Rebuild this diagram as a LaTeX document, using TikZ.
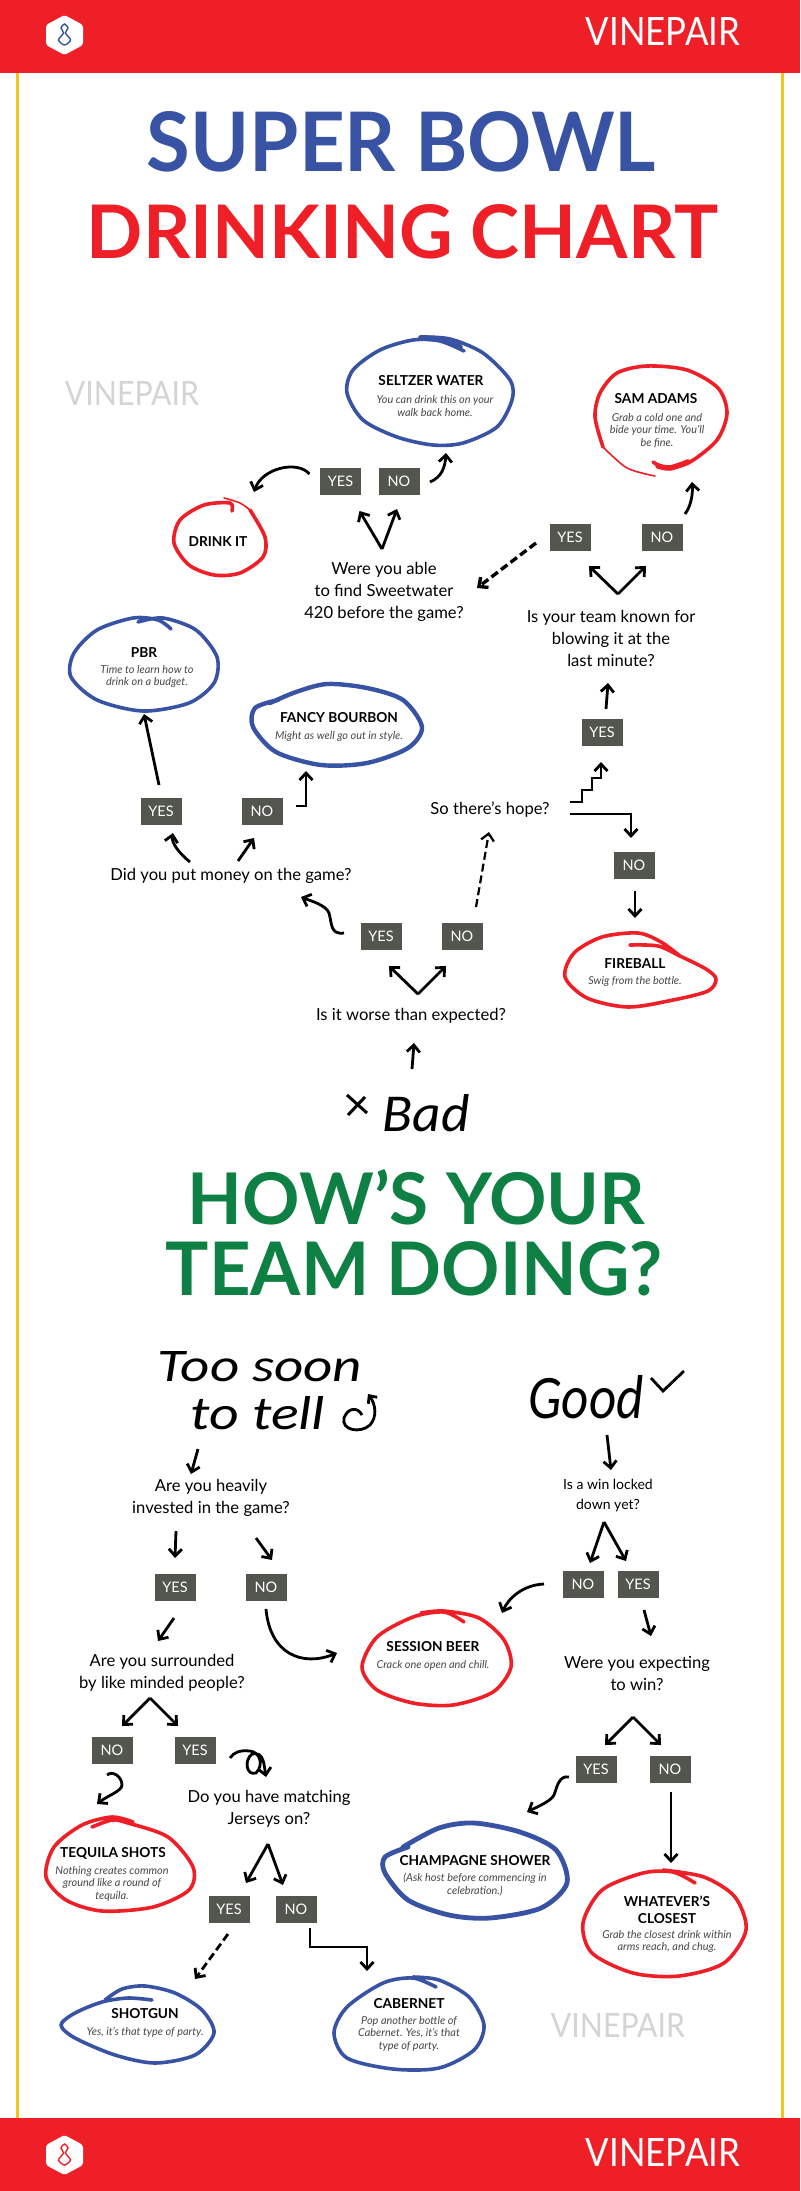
\documentclass[tikz,border=0pt]{standalone}
\usepackage{fontspec}
\usepackage{graphicx}
\usetikzlibrary{arrows.meta}
\newfontfamily\headfont{Lato}[BoldFont=* Bold]
\newfontfamily\logofont{Lato}
\newfontfamily\askfont{Lato}
\newfontfamily\drinkfont{Lato Bold}
\newfontfamily\notefont{Lato Italic}
\newfontfamily\handfont{Carlito Italic}
\definecolor{bandred}{HTML}{EE1F27}
\definecolor{ringblue}{HTML}{3953A4}
\definecolor{teamgreen}{HTML}{0E8043}
\definecolor{boxgray}{HTML}{53564E}
\definecolor{edgeyellow}{HTML}{F2C61E}
\definecolor{markgray}{HTML}{D4D4D4}
\begin{document}
\begin{tikzpicture}
[x=1pt,y=-1pt,
  fitdecorate/.style={inner sep=0pt,outer sep=0pt},
  askdecorate/.style={inner sep=0pt,align=center,font=\fontsize{16.6}{22}\selectfont\askfont},
  smalldecorate/.style={inner sep=0pt,align=center,font=\fontsize{14}{20}\selectfont\askfont},
  drinkdecorate/.style={inner sep=0pt,align=center,font=\fontsize{13.7}{17}\selectfont\drinkfont},
  notedecorate/.style={inner sep=0pt,align=center,text=black!72,font=\fontsize{10.9}{12.6}\selectfont\notefont},
  boxdecorate/.style={fill=boxgray,text=white,minimum width=41pt,minimum height=27pt,inner sep=0pt,font=\fontsize{14.5}{15}\selectfont\askfont},
  ringdecorate/.style={line width=3.6pt,line cap=round,line join=round},
  taildecorate/.style={line width=1.6pt,line cap=round},
  swooshdecorate/.style={line width=5.5pt,line cap=round},
  linedecorate/.style={-{Straight Barb[length=7pt,width=13pt]},line width=2.8pt},
  dashdecorate/.style={linedecorate,dash pattern=on 8pt off 4pt}]
\useasboundingbox[fill=white] (0,0) rectangle (800,2191);
% frame
\draw[edgeyellow,line width=3pt] (17.5,72) -- (17.5,2118);
\draw[edgeyellow,line width=3pt] (782,72) -- (782,2118);
\foreach \bandtop/\bandmid/\iconcolor in {0/35/ringblue,2118/2155/bandred} {
  \fill[bandred] (0,\bandtop) rectangle (800,\bandtop+73);
  \fill[white,rounded corners=2pt] (64.5,\bandmid-20) -- (83,\bandmid-10) -- (83,\bandmid+10) -- (64.5,\bandmid+20) -- (46,\bandmid+10) -- (46,\bandmid-10) -- cycle;
  \draw[\iconcolor,line width=1.4pt] plot[smooth cycle] coordinates {(64.5,\bandmid-11) (61,\bandmid-7) (63.5,\bandmid-2) (58.5,\bandmid+5) (64.5,\bandmid+10) (70.5,\bandmid+5) (65.5,\bandmid-2) (68,\bandmid-7)};
  \node (logo\bandtop) at (663,\bandmid-3) [fitdecorate,text=white] {\resizebox{154pt}{28pt}{\logofont VINEPAIR}};
}
\node (marka) at (132,393) [fitdecorate,text=markgray] {\resizebox{134pt}{24pt}{\logofont VINEPAIR}};
\node (markb) at (618,2025) [fitdecorate,text=markgray] {\resizebox{134pt}{24pt}{\logofont VINEPAIR}};
% titles
\node (titlea) at (401.5,142) [fitdecorate,text=ringblue] {\resizebox{509pt}{60pt}{\headfont\bfseries SUPER BOWL}};
\node (titleb) at (402.5,232) [fitdecorate,text=bandred] {\resizebox{631pt}{54pt}{\headfont\bfseries DRINKING CHART}};
\node (titlec) at (416.5,1197.5) [fitdecorate,text=teamgreen] {\resizebox{457pt}{55pt}{\headfont\bfseries HOW’S YOUR}};
\node (titled) at (414.5,1269) [fitdecorate,text=teamgreen] {\resizebox{497pt}{54pt}{\headfont\bfseries TEAM DOING?}};
% hand written heads
\node (badhead) at (426,1113) [fitdecorate] {\resizebox{87pt}{37pt}{\handfont Bad}};
\node (soona) at (260,1367) [fitdecorate] {\resizebox{204pt}{30pt}{\handfont Too soon}};
\node (soonb) at (258,1413) [fitdecorate] {\resizebox{134pt}{33pt}{\handfont to tell}};
\node (goodhead) at (586,1397) [fitdecorate] {\resizebox{115pt}{43pt}{\handfont Good}};
\draw[line width=3pt] (347,1095) -- (367,1113) (365,1097) -- (348,1115);
\draw[line width=2.8pt] (651,1378) -- (663,1391) -- (684,1371);
\draw[-{Straight Barb[length=6pt,width=11pt]},line width=2.8pt] (362,1415) .. controls (358,1407) and (348,1407) .. (344,1418) .. controls (341,1430) and (360,1434) .. (370,1425) .. controls (377,1417) and (376,1405) .. (368,1394);
% questions
\node (qwater) at (384,592) [askdecorate] {Were you able\\to find Sweetwater\\420 before the game?};
\node (qteam) at (611,638) [askdecorate] {Is your team known for\\blowing it at the\\last minute?};
\node (qmoney) at (231,876) [askdecorate] {Did you put money on the game?};
\node (qhope) at (490,810) [askdecorate] {So there’s hope?};
\node (qworse) at (411,1016) [askdecorate] {Is it worse than expected?};
\node (qinvest) at (211,1498) [askdecorate] {Are you heavily\\invested in the game?};
\node (qlocked) at (608,1496) [smalldecorate] {Is a win locked\\down yet?};
\node (qexpect) at (637,1673) [askdecorate] {Were you expecting\\to win?};
\node (qsurround) at (162,1673) [askdecorate] {Are you surrounded\\by like minded people?};
\node (qjersey) at (269,1809) [askdecorate] {Do you have matching\\Jerseys on?};
% answers
\node (yesa) at (340.5,481) [boxdecorate] {YES};
\node (noa) at (399,481) [boxdecorate] {NO};
\node (yesb) at (570,537) [boxdecorate] {YES};
\node (nob) at (662,537) [boxdecorate] {NO};
\node (yesc) at (602,732) [boxdecorate] {YES};
\node (noc) at (634,865) [boxdecorate] {NO};
\node (yesd) at (161,811) [boxdecorate] {YES};
\node (nod) at (262,811) [boxdecorate] {NO};
\node (yese) at (381,936) [boxdecorate] {YES};
\node (noe) at (462,936) [boxdecorate] {NO};
\node (yesf) at (175,1587) [boxdecorate] {YES};
\node (nof) at (266,1587) [boxdecorate] {NO};
\node (yesg) at (195,1750) [boxdecorate] {YES};
\node (nog) at (112,1750) [boxdecorate] {NO};
\node (yesh) at (229,1909) [boxdecorate] {YES};
\node (noh) at (296,1909) [boxdecorate] {NO};
\node (yesi) at (638,1584) [boxdecorate] {YES};
\node (noi) at (583,1584) [boxdecorate] {NO};
\node (yesj) at (596,1769) [boxdecorate] {YES};
\node (noj) at (670,1769) [boxdecorate] {NO};
% drinks
\node (seltzer) at (431,381) [drinkdecorate] {SELTZER WATER};
\node (seltzernote) at (435,406) [notedecorate] {You can drink this on your\\walk back home.};
\node (sam) at (656,399) [drinkdecorate] {SAM ADAMS};
\node (samnote) at (657,430.5) [notedecorate] {Grab a cold one and\\bide your time. You’ll\\be fine.};
\node (drink) at (218,542) [drinkdecorate] {DRINK IT};
\node (pbr) at (144,653) [drinkdecorate] {PBR};
\node (pbrnote) at (147,676.5) [notedecorate] {Time to learn how to\\drink on a budget.};
\node (fancy) at (339,718) [drinkdecorate] {FANCY BOURBON};
\node (fancynote) at (339,736) [notedecorate] {Might as well go out in style.};
\node (fireball) at (635,964) [drinkdecorate] {FIREBALL};
\node (fireballnote) at (635,981) [notedecorate] {Swig from the bottle.};
\node (session) at (433,1647) [drinkdecorate] {SESSION BEER};
\node (sessionnote) at (433,1665) [notedecorate] {Crack one open and chill.};
\node (tequila) at (113,1853) [drinkdecorate] {TEQUILA SHOTS};
\node (tequilanote) at (112,1883.5) [notedecorate] {Nothing creates common\\ground like a round of\\tequila.};
\node (champagne) at (475,1861) [drinkdecorate] {CHAMPAGNE SHOWER};
\node (champagnenote) at (475,1884.5) [notedecorate] {(Ask host before commencing in\\celebration.)};
\node (whatever) at (667,1910) [drinkdecorate] {WHATEVER’S\\CLOSEST};
\node (whatevernote) at (667,1941.5) [notedecorate] {Grab the closest drink within\\arms reach, and chug.};
\node (shotgun) at (145,2014) [drinkdecorate] {SHOTGUN};
\node (shotgunnote) at (145,2032) [notedecorate] {Yes, it’s that type of party.};
\node (cabernet) at (409,2004) [drinkdecorate] {CABERNET};
\node (cabernetnote) at (409,2033.5) [notedecorate] {Pop another bottle of\\Cabernet. Yes, it’s that\\type of party.};
% rings
\draw[ringdecorate,ringblue] plot[smooth] coordinates {(464,351) (440,341) (413,340) (380,350) (353,370) (347,393) (363,420) (397,437) (433,445) (463,443) (497,427) (512,400) (510,380) (483,353) (450,339) (420,337)};
\draw[swooshdecorate,ringblue] plot[smooth] coordinates {(424,338) (445,340) (460,347)};
\draw[ringdecorate,bandred] plot[smooth] coordinates {(653,462) (667,468) (690,462) (717,440) (727,413) (718,388) (687,370) (647,366) (617,373) (600,393) (595,417) (603,447)};
\draw[taildecorate,bandred] plot[smooth] coordinates {(603,447) (627,468) (655,476)};
\draw[swooshdecorate,bandred] plot[smooth] coordinates {(658,466) (670,468) (688,462)};
\draw[ringdecorate,bandred] plot[smooth] coordinates {(250,510) (265,537) (263,557) (240,573) (214,575) (189,565) (174,543) (180,520) (204,505) (230,503) (232,511)};
\draw[taildecorate,bandred] plot[smooth] coordinates {(224,498) (240,503) (250,510)};
\draw[ringdecorate,ringblue] plot[smooth] coordinates {(171,629) (158,620) (133,618) (97,630) (74,653) (71,677) (97,700) (143,711) (189,703) (214,683) (217,657) (196,630) (163,618) (138,622)};
\draw[ringdecorate,ringblue,line width=4.4pt] plot[smooth] coordinates {(278,700) (255,708) (253,727) (276,752) (321,765) (367,763) (408,748) (422,727) (403,700) (367,688) (327,684) (296,692) (270,703)};
\draw[ringdecorate,bandred] plot[smooth] coordinates {(630,945) (658,946) (680,956) (706,969) (716,979) (708,991) (673,1000) (628,1007) (587,998) (565,977) (574,953) (602,937) (638,933) (661,942) (680,956)};
\draw[ringdecorate,bandred] plot[smooth] coordinates {(464,1622) (444,1612) (413,1617) (377,1637) (362,1667) (377,1690) (413,1703) (453,1705) (493,1692) (511,1667) (504,1640) (479,1618) (444,1611) (421,1613)};
\draw[ringdecorate,bandred] plot[smooth] coordinates {(92,1827) (112,1820) (128,1823) (168,1837) (193,1867) (189,1890) (153,1907) (102,1911) (66,1900) (46,1877) (54,1847) (82,1825) (112,1817) (133,1822)};
\draw[ringdecorate,ringblue,line width=4.8pt] plot[smooth] coordinates {(408,1847) (385,1857) (385,1873) (408,1900) (449,1915) (490,1918) (541,1908) (567,1883) (556,1850) (520,1832) (474,1823) (439,1828) (403,1847)};
\draw[ringdecorate,bandred] plot[smooth] coordinates {(695,1883) (673,1872) (643,1873) (602,1890) (583,1923) (592,1953) (633,1973) (679,1976) (724,1963) (746,1930) (735,1897) (704,1877) (663,1870)};
\draw[ringdecorate,ringblue] plot[smooth] coordinates {(152,2000) (128,1998) (102,2002) (75,2013) (61,2025) (75,2038) (115,2055) (155,2063) (195,2055) (214,2033) (202,2010) (175,1993) (145,1986) (122,1989) (105,2000)};
\draw[ringdecorate,ringblue] plot[smooth] coordinates {(436,1987) (413,1978) (383,1983) (347,2007) (334,2033) (347,2058) (393,2069) (439,2068) (474,2050) (484,2025) (469,1997) (439,1980) (413,1977)};
% splits
\coordinate (vwater) at (382,549);
\coordinate (vteam) at (618,594);
\coordinate (vworse) at (418,994);
\coordinate (vlocked) at (604,1522);
\coordinate (vsurround) at (150,1698);
\coordinate (vexpect) at (633,1717);
\coordinate (vjersey) at (268,1844);
\draw[linedecorate] (vwater) -- ([shift={(19,30)}]yesa.center);
\draw[linedecorate] (vwater) -- ([shift={(-2,28)}]noa.center);
\draw[linedecorate] (vteam) -- ([shift={(19,29)}]yesb.center);
\draw[linedecorate] (vteam) -- ([shift={(-16,29)}]nob.center);
\draw[linedecorate] (vworse) -- ([shift={(8,30)}]yese.center);
\draw[linedecorate] (vworse) -- ([shift={(-16,30)}]noe.center);
\draw[linedecorate] (vlocked) -- ([shift={(7,-21)}]noi.center);
\draw[linedecorate] (vlocked) -- ([shift={(-12,-23)}]yesi.center);
\draw[linedecorate] (vsurround) -- ([shift={(10,-24)}]nog.center);
\draw[linedecorate] (vsurround) -- ([shift={(-17,-24)}]yesg.center);
\draw[linedecorate] (vexpect) -- ([shift={(9,-24)}]yesj.center);
\draw[linedecorate] (vexpect) -- ([shift={(-9,-24)}]noj.center);
\draw[linedecorate] (vjersey) -- ([shift={(17,-26)}]yesh.center);
\draw[linedecorate] (vjersey) -- ([shift={(-13,-24)}]noh.center);
% edges
\draw[linedecorate] ([shift={(-31,-7)}]yesa.center) .. controls +(-12,-14) and +(8,-24) .. ([shift={(36,-50)}]drink.center);
\draw[linedecorate] ([shift={(31,1)}]noa.center) .. controls +(12,-5) and +(-1,14) .. ([shift={(15,72)}]seltzer.center);
\draw[dashdecorate,line width=3.4pt] ([shift={(-34,6)}]yesb.center) -- ([shift={(93,-4)}]qwater.center);
\draw[linedecorate] ([shift={(23,-23)}]nob.center) .. controls +(6,-8) and +(1,12) .. ([shift={(36,83)}]sam.center);
\draw[linedecorate] ([shift={(4,-23)}]yesc.center) -- ([shift={(-3,45)}]qteam.center);
\draw[linedecorate] ([shift={(-2,-26)}]yesd.center) -- ([shift={(0,61)}]pbr.center);
\draw[linedecorate] ([shift={(34,-5)}]nod.center) -| ([shift={(-33,53)}]fancy.center);
\draw[linedecorate] ([shift={(-41,-14)}]qmoney.center) .. controls +(-10,-8) and +(-2,10) .. ([shift={(12,22)}]yesd.center);
\draw[linedecorate] ([shift={(7,-15)}]qmoney.center) -- ([shift={(-8,27)}]nod.center);
\draw[linedecorate] ([shift={(-37,-3)}]yese.center) .. controls +(-14,2) and +(3,10) .. ++(-15,-20) .. controls +(-3,-8) and +(10,4) .. ([shift={(70,21)}]qmoney.center);
\draw[dashdecorate,line width=2.2pt] ([shift={(14,-29)}]noe.center) -- ([shift={(-1,22)}]qhope.center);
\draw[linedecorate] ([shift={(80,-8)}]qhope.center) -- ++(12,0) -- ++(0,-12) -- ++(10,0) -- ++(0,-12) -- ++(9,0) -- ([shift={(-1,30)}]yesc.center);
\draw[linedecorate] ([shift={(80,4)}]qhope.center) -| ([shift={(-3,-27)}]noc.center);
\draw[linedecorate] ([shift={(1,26)}]noc.center) -- ([shift={(0,-46)}]fireball.center);
\draw[linedecorate] ([shift={(-14,-44)}]badhead.center) -- ([shift={(3,27)}]qworse.center);
\draw[linedecorate] ([shift={(-60,36)}]soonb.center) -- ([shift={(-20,-24)}]qinvest.center);
\draw[linedecorate] ([shift={(-35,33)}]qinvest.center) -- ([shift={(0,-29)}]yesf.center);
\draw[linedecorate] ([shift={(45,40)}]qinvest.center) -- ([shift={(6,-27)}]nof.center);
\draw[linedecorate] ([shift={(0,22)}]nof.center) .. controls +(4,45) and +(-35,14) .. ([shift={(-96,6)}]session.center);
\draw[linedecorate] ([shift={(-1,31)}]yesf.center) -- ([shift={(-4,-32)}]qsurround.center);
\draw[linedecorate] ([shift={(21,38)}]goodhead.center) -- ([shift={(3,-26)}]qlocked.center);
\draw[linedecorate] ([shift={(-39,0)}]noi.center) .. controls +(-22,1) and +(6,-14) .. ([shift={(69,-34)}]session.center);
\draw[linedecorate] ([shift={(6,26)}]yesi.center) -- ([shift={(14,-37)}]qexpect.center);
\draw[linedecorate] ([shift={(-5,25)}]nog.center) .. controls +(6,-5) and +(0,-8) .. ++(15,10) .. controls +(0,6) and +(10,-8) .. ([shift={(-16,-49)}]tequila.center);
\draw[linedecorate] ([shift={(35,8)}]yesg.center) .. controls +(4,-6) and +(-10,-1) .. ++(20,-7) .. controls +(10,1) and +(8,-8) .. ++(6,22) .. controls +(-10,3) and +(-8,6) .. ++(-4,-19) .. controls +(12,-3) and +(-2,-12) .. ([shift={(-3,-32)}]qjersey.center);
\draw[dashdecorate,line width=2.8pt] ([shift={(-1,25)}]yesh.center) -- ([shift={(50,-35)}]shotgun.center);
\draw[linedecorate] ([shift={(14,19)}]noh.center) -- ++(0,19) -- ++(57,0) -- ([shift={(-42,-33)}]cabernet.center);
\draw[linedecorate] ([shift={(-27,8)}]yesj.center) .. controls +(-10,-2) and +(3,-8) .. ++(-15,18) .. controls +(-3,6) and +(12,-6) .. ([shift={(52,-49)}]champagne.center);
\draw[linedecorate] ([shift={(1,23)}]noj.center) -- ([shift={(4,-47)}]whatever.center);
\end{tikzpicture}
\end{document}
